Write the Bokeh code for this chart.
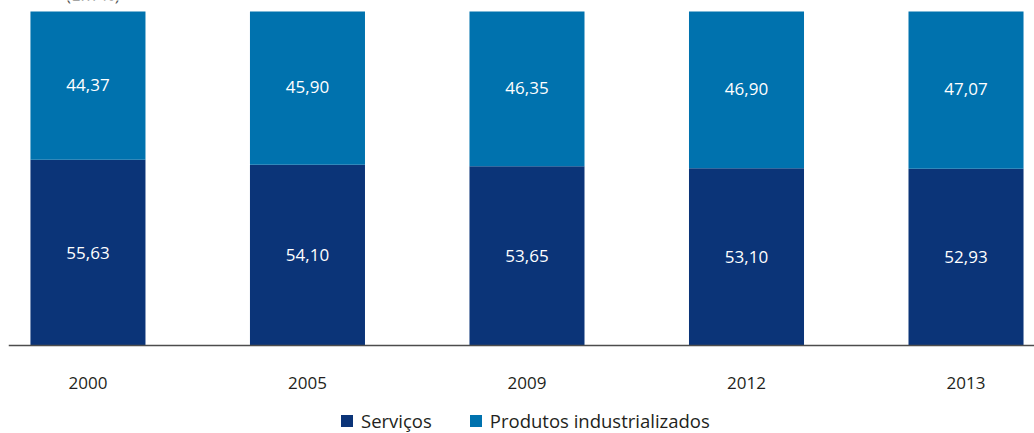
from bokeh.plotting import figure
from bokeh.models import ColumnDataSource, Range1d, Span, Legend, LegendItem, Label
from bokeh.core.properties import value
from bokeh.embed import file_html
from bokeh.resources import INLINE

# ---- data ----
years = ["2000", "2005", "2009", "2012", "2013"]
servicos = [55.63, 54.10, 53.65, 53.10, 52.93]
produtos = [44.37, 45.90, 46.35, 46.90, 47.07]
series_names = ["Serviços", "Produtos industrializados"]
unit_label = "(Em %)"

FONT = "Open Sans"
DARK = "#0b3478"
LIGHT = "#0072ae"
TEXT = "#231f20"

xs = list(range(len(years)))
src = ColumnDataSource(dict(
    x=xs,
    years=years,
    serv=servicos,
    prod=produtos,
    serv_mid=[s / 2 for s in servicos],
    prod_mid=[s + p / 2 for s, p in zip(servicos, produtos)],
    serv_lbl=[f"{v:.2f}".replace(".", ",") for v in servicos],
    prod_lbl=[f"{v:.2f}".replace(".", ",") for v in produtos],
    base=[0] * len(years),
))

px_per_unit = 334 / 100.0
y_top = 100 + 11 / px_per_unit
y_bot = -88 / px_per_unit

p = figure(width=1034, height=433, output_backend="svg", toolbar_location=None,
           x_range=Range1d(-0.362, 4.312), y_range=Range1d(y_bot, y_top),
           min_border_left=8, min_border_right=0, min_border_top=0, min_border_bottom=0)
p.xaxis.visible = False
p.yaxis.visible = False
p.xgrid.visible = False
p.ygrid.visible = False
p.outline_line_color = None
p.background_fill_color = "white"
p.border_fill_color = "white"

r = p.vbar_stack(["serv", "prod"], x="x", width=0.524, source=src,
                 color=[DARK, LIGHT], line_color=None)

# baseline
p.add_layout(Span(location=0, dimension="width", line_color="#4d4d4d", line_width=1.5))

# value labels
p.text(x="x", y="serv_mid", text="serv_lbl", source=src, text_color="white",
       text_font=value(FONT), text_font_size="17px", text_align="center",
       text_baseline="middle")
p.text(x="x", y="prod_mid", text="prod_lbl", source=src, text_color="white",
       text_font=value(FONT), text_font_size="17px", text_align="center",
       text_baseline="middle", y_offset=-1)

# category labels
p.text(x="x", y="base", text="years", source=src, text_color=TEXT,
       text_font=value(FONT), text_font_size="17px", text_align="center",
       text_baseline="middle", y_offset=37)

# unit label (mostly cut off at the top, as in the reference)
p.add_layout(Label(x=0, y=y_top, text=unit_label, text_font=FONT, text_font_size="17px",
                   text_color="#555555", text_align="center", text_baseline="alphabetic",
                   x_offset=5, y_offset=6))

legend = Legend(items=[LegendItem(label=series_names[0], renderers=[r[0]]),
                       LegendItem(label=series_names[1], renderers=[r[1]])],
                orientation="horizontal", location=(331, 0),
                glyph_width=15, glyph_height=15, label_standoff=7, spacing=36,
                padding=0, margin=0, label_text_font=FONT, label_text_font_size="18.5px",
                label_text_color=TEXT, background_fill_alpha=0, border_line_color=None,
                label_height=18)
p.add_layout(legend)

open("out.html", "w").write(file_html(p, INLINE))
